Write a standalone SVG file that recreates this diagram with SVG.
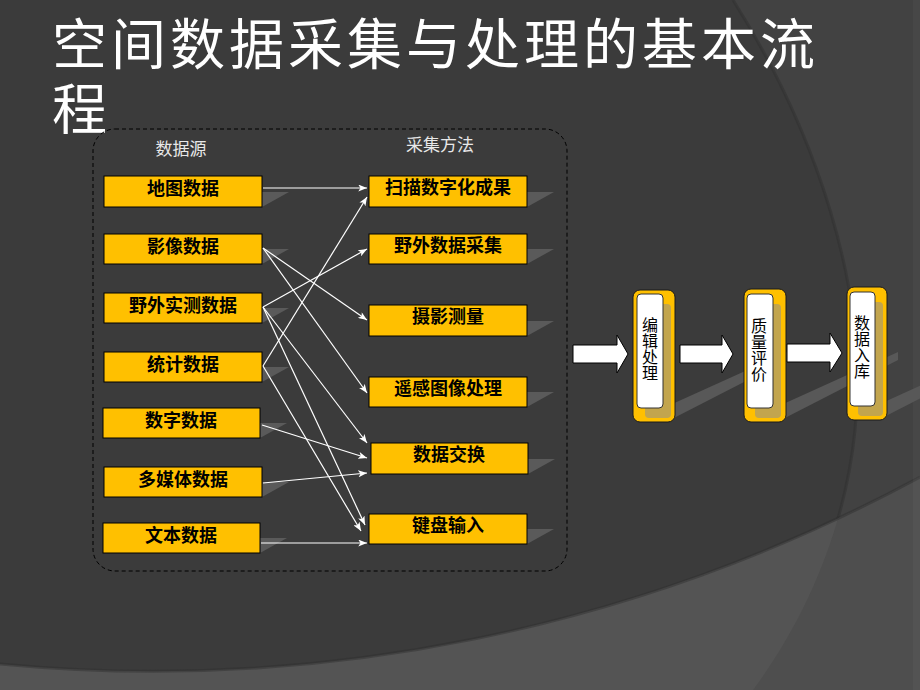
<svg xmlns="http://www.w3.org/2000/svg" width="920" height="690" viewBox="0 0 920 690">
  <defs>
    <style>
      .title { font-family: "Noto Sans CJK SC", "Liberation Sans", sans-serif; font-size: 55px; fill: #ffffff; letter-spacing: 4px; }
      .head { font-family: "Noto Sans CJK SC", "Liberation Sans", sans-serif; font-size: 17px; fill: #e8e8e8; text-anchor: middle; }
      .box { fill: #FFC000; stroke: #000; stroke-width: 1; }
      .boxshadow { fill: #5a5a5a; }
      .lbl { font-family: "Noto Sans CJK SC", "Liberation Sans", sans-serif; font-size: 18px; font-weight: bold; fill: #000; text-anchor: middle; }
      .conn { stroke: #ffffff; stroke-width: 1.2; fill: none; marker-end: url(#ah); }
      .band { fill: #585858; }
      .barrow { fill: #ffffff; stroke: #000; stroke-width: 1; }
      .pouter { fill: #FFC000; stroke: #1a1a1a; stroke-width: 1; }
      .pkhaki { fill: #c2a54e; }
      .pinner { fill: #ffffff; stroke: #333; stroke-width: 1; }
      .plbl { font-family: "Noto Sans CJK SC", "Liberation Sans", sans-serif; font-size: 16px; fill: #000; text-anchor: middle; writing-mode: vertical-rl; text-orientation: upright; }
    </style>
    <marker id="ah" viewBox="0 0 10 8" refX="10" refY="4" markerWidth="9" markerHeight="7" markerUnits="userSpaceOnUse" orient="auto">
      <path d="M0,0 L10,4 L0,8 L2.5,4 Z" fill="#ffffff"/>
    </marker>
    <clipPath id="bandclip">
      <path d="M0,664 A1611,1611 0 0 0 920,477 L920,690 L0,690 Z"/>
    </clipPath>
  </defs>

  <!-- background -->
  <rect x="0" y="0" width="920" height="690" fill="#3b3b3b"/>
  <path d="M733,0 C815,130 870,290 855,430 C845,530 805,620 753,690 L920,690 L920,0 Z" fill="#424242"/>
  <path d="M733,0 C815,130 870,290 855,430 C845,530 805,620 753,690" fill="none" stroke="#2e2e2e" stroke-width="3" opacity="0.45"/>
  <path d="M0,664 A1611,1611 0 0 0 920,477 L920,690 L0,690 Z" fill="#545454"/>
  <path d="M733,0 C815,130 870,290 855,430 C845,530 805,620 753,690 L920,690 L920,0 Z" fill="#4e4e4e" clip-path="url(#bandclip)"/>
  <path d="M0,664 A1611,1611 0 0 0 920,477" fill="none" stroke="#2e2e2e" stroke-width="3" opacity="0.45"/>
  <rect x="913" y="0" width="7" height="690" fill="#ffffff" opacity="0.03"/>

  <!-- title -->
  <g id="title">
    <text class="title"><tspan x="52" y="64">空间数据采集与处理的基本流</tspan><tspan x="52" y="129">程</tspan></text>
  </g>

  <!-- dashed container -->
  <g id="container">
    <rect x="93" y="129" width="474" height="442" rx="22" ry="22" fill="none" stroke="#000" stroke-width="1" stroke-dasharray="4 3"/>
    <text class="head" x="181" y="155">数据源</text>
    <text class="head" x="440" y="151">采集方法</text>
  </g>

  <!-- source nodes -->
  <g id="src-map">
    <polygon class="boxshadow" points="262,192 289,192 262,207"/>
    <rect class="box" x="104" y="176" width="158" height="31"/>
    <text class="lbl" x="183" y="195">地图数据</text>
  </g>
  <g id="src-image">
    <polygon class="boxshadow" points="262,249 289,249 262,264"/>
    <rect class="box" x="104" y="234" width="158" height="30"/>
    <text class="lbl" x="183" y="253">影像数据</text>
  </g>
  <g id="src-field">
    <polygon class="boxshadow" points="262,308 289,308 262,323"/>
    <rect class="box" x="104" y="293" width="158" height="30"/>
    <text class="lbl" x="183" y="312">野外实测数据</text>
  </g>
  <g id="src-stat">
    <polygon class="boxshadow" points="262,367 289,367 262,382"/>
    <rect class="box" x="104" y="352" width="158" height="30"/>
    <text class="lbl" x="183" y="371">统计数据</text>
  </g>
  <g id="src-digital">
    <polygon class="boxshadow" points="260,423 287,423 260,438"/>
    <rect class="box" x="103" y="408" width="157" height="30"/>
    <text class="lbl" x="181" y="427">数字数据</text>
  </g>
  <g id="src-media">
    <polygon class="boxshadow" points="262,482 289,482 262,497"/>
    <rect class="box" x="104" y="467" width="158" height="30"/>
    <text class="lbl" x="183" y="486">多媒体数据</text>
  </g>
  <g id="src-text">
    <polygon class="boxshadow" points="260,538 287,538 260,553"/>
    <rect class="box" x="103" y="523" width="157" height="30"/>
    <text class="lbl" x="181" y="542">文本数据</text>
  </g>

  <!-- method nodes -->
  <g id="m-scan">
    <polygon class="boxshadow" points="527,192 554,192 527,207"/>
    <rect class="box" x="369" y="176" width="158" height="31"/>
    <text class="lbl" x="448" y="194">扫描数字化成果</text>
  </g>
  <g id="m-field">
    <polygon class="boxshadow" points="527,249 554,249 527,264"/>
    <rect class="box" x="369" y="234" width="158" height="30"/>
    <text class="lbl" x="448" y="252">野外数据采集</text>
  </g>
  <g id="m-photo">
    <polygon class="boxshadow" points="527,321 554,321 527,336"/>
    <rect class="box" x="369" y="305" width="158" height="31"/>
    <text class="lbl" x="448" y="323">摄影测量</text>
  </g>
  <g id="m-rs">
    <polygon class="boxshadow" points="527,392 554,392 527,407"/>
    <rect class="box" x="369" y="377" width="158" height="30"/>
    <text class="lbl" x="448" y="395">遥感图像处理</text>
  </g>
  <g id="m-exchange">
    <polygon class="boxshadow" points="528,459 555,459 528,474"/>
    <rect class="box" x="371" y="443" width="157" height="31"/>
    <text class="lbl" x="449" y="461">数据交换</text>
  </g>
  <g id="m-keyboard">
    <polygon class="boxshadow" points="527,529 554,529 527,544"/>
    <rect class="box" x="369" y="514" width="158" height="30"/>
    <text class="lbl" x="448" y="532">键盘输入</text>
  </g>

  <!-- connectors -->
  <g id="connectors">
    <line class="conn" x1="263" y1="188" x2="367" y2="188"/>
    <line class="conn" x1="263" y1="248" x2="367" y2="320"/>
    <line class="conn" x1="263" y1="248" x2="367" y2="393"/>
    <line class="conn" x1="263" y1="307" x2="367" y2="249"/>
    <line class="conn" x1="263" y1="307" x2="367" y2="443"/>
    <line class="conn" x1="263" y1="307" x2="365" y2="525"/>
    <line class="conn" x1="263" y1="366" x2="367" y2="197"/>
    <line class="conn" x1="263" y1="366" x2="361" y2="531"/>
    <line class="conn" x1="262" y1="425" x2="367" y2="458"/>
    <line class="conn" x1="263" y1="483" x2="367" y2="473"/>
    <line class="conn" x1="261" y1="543" x2="367" y2="543"/>
  </g>

  <!-- process flow -->
  <g id="flow-shadows">
    <polygon class="band" points="670,420 787,360 787,352 670,405"/>
    <polygon class="band" points="781,420 898,360 898,352 781,405"/>
    <polygon class="band" points="882,418 999,358 999,350 882,403"/>
  </g>
  <g id="flow-arrows">
    <path class="barrow" d="M573,345 H617 V335 L628,354 L617,373 V363 H573 Z"/>
    <path class="barrow" d="M680,345 H722 V335 L733,354 L722,373 V363 H680 Z"/>
    <path class="barrow" d="M787,344 H830 V333 L842,353 L830,372 V362 H787 Z"/>
  </g>
  <g id="p-edit">
    <rect class="pouter" x="633" y="290" width="42" height="132" rx="7" ry="7"/>
    <rect class="pkhaki" x="645" y="304" width="26" height="114" rx="4" ry="4"/>
    <rect class="pinner" x="637" y="294" width="26" height="114" rx="4" ry="4"/>
    <text class="plbl" x="650" y="349">编辑处理</text>
  </g>
  <g id="p-quality">
    <rect class="pouter" x="744" y="289" width="42" height="133" rx="7" ry="7"/>
    <rect class="pkhaki" x="755" y="304" width="26" height="114" rx="4" ry="4"/>
    <rect class="pinner" x="747" y="294" width="26" height="114" rx="4" ry="4"/>
    <text class="plbl" x="759" y="350">质量评价</text>
  </g>
  <g id="p-store">
    <rect class="pouter" x="847" y="287" width="40" height="133" rx="7" ry="7"/>
    <rect class="pkhaki" x="858" y="302" width="25" height="114" rx="4" ry="4"/>
    <rect class="pinner" x="850" y="292" width="25" height="114" rx="4" ry="4"/>
    <text class="plbl" x="862" y="347">数据入库</text>
  </g>
</svg>
